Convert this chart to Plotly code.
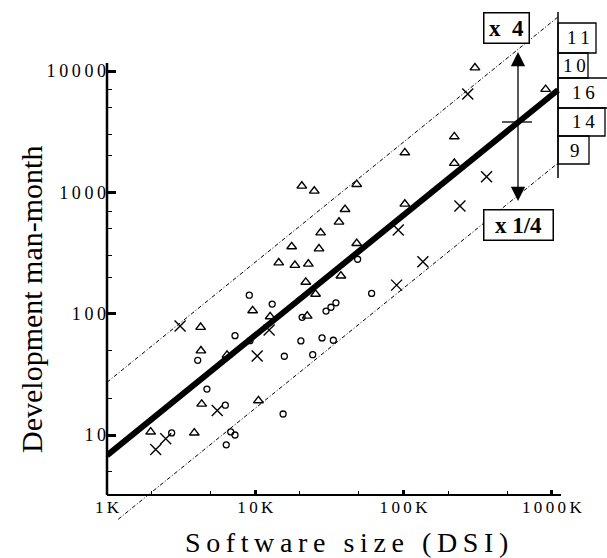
import math
import plotly.graph_objects as go

# ---------------- data (software size in KDSI, effort in man-months) ----------------
tri_x = [20.6, 25.0, 48.3, 40.3, 36.7, 27.6, 17.6, 26.9, 48.3, 14.4, 18.5, 22.8, 21.9,
         37.8, 25.5, 9.6, 12.6, 22.4, 4.28, 4.30, 6.45, 4.35, 10.5, 1.97, 3.88,
         303, 908, 220, 220, 102, 102]
tri_y = [1129, 1027, 1166, 725, 570, 465, 357, 343, 380, 263, 251, 257, 182,
         205, 145, 106, 94.5, 95.7, 77.3, 49.5, 45.6, 18.0, 19.2, 10.6, 10.4,
         10660, 7080, 2879, 1738, 2125, 802]
circ_x = [9.11, 13.0, 49.0, 60.9, 7.30, 9.21, 20.7, 30.0, 32.4, 35.0, 20.3, 28.2,
          33.6, 15.7, 24.4, 4.09, 4.72, 6.28, 15.4, 2.73, 6.83, 7.30, 6.37]
circ_y = [142, 120, 281, 147, 65.9, 59.9, 93.4, 105, 113, 123, 59.6, 63.1,
          60.4, 44.6, 45.9, 41.3, 23.9, 17.6, 14.9, 10.4, 10.6, 10.0, 8.3]
cross_x = [3.11, 12.4, 10.3, 5.54, 2.49, 2.13, 271, 363, 240, 92.1, 135, 89.8]
cross_y = [79.2, 73.4, 44.8, 15.9, 9.3, 7.6, 6475, 1347, 773, 490, 268, 172]

# regression line end points and band factor
fit_x = [1, 1100]
fit_y = [6.8, 6980]
band_factor = 4
lower_start_x = 1.19

x_tick_vals = [1, 10, 100, 1000]
x_tick_text = ["1K", "10K", "100K", "1000K"]
y_tick_vals = [10, 100, 1000, 10000]
y_tick_text = ["10", "100", "1000", "10000"]
x_minor = [2, 5, 20, 50, 200, 500]
y_minor = [5, 20, 50, 200, 300, 500, 700, 2000, 3000, 5000, 7000]

table_labels = ["11", "10", "16", "14", "9"]

# ---------------- layout helpers ----------------
W, H = 607, 558
L = 107
SERIF = "Liberation Serif"
TS = "\u2009"


def spaced(s):
    return TS.join(s)


def pxx(p):
    return (p - L) / (W - L)


def pxy(p):
    return 1 - p / H


slope = math.log10(fit_y[1] / fit_y[0]) / math.log10(fit_x[1] / fit_x[0])


def fit(x):
    return fit_y[0] * (x / fit_x[0]) ** slope


fig = go.Figure()

dash_style = "4px,2px,1px,2px"
fig.add_trace(go.Scatter(x=fit_x, y=[v * band_factor for v in fit_y], mode="lines",
                         line=dict(color="black", width=1, dash=dash_style), hoverinfo="skip"))
fig.add_trace(go.Scatter(x=[lower_start_x, fit_x[1]],
                         y=[fit(lower_start_x) / band_factor, fit_y[1] / band_factor], mode="lines",
                         line=dict(color="black", width=1, dash=dash_style), hoverinfo="skip"))
fig.add_trace(go.Scatter(x=fit_x, y=fit_y, mode="lines",
                         line=dict(color="black", width=6), hoverinfo="skip"))

fig.add_trace(go.Scatter(x=tri_x, y=tri_y, mode="markers",
                         marker=dict(symbol="triangle-up-open", size=8.5, color="black",
                                     line=dict(width=1.4, color="black"))))
fig.add_trace(go.Scatter(x=circ_x, y=circ_y, mode="markers",
                         marker=dict(symbol="circle-open", size=6, color="black",
                                     line=dict(width=1.3, color="black"))))
fig.add_trace(go.Scatter(x=cross_x, y=cross_y, mode="markers",
                         marker=dict(symbol="x-thin-open", size=11, color="black",
                                     line=dict(width=1.4, color="black"))))

AXIS_Y_PX = 495
shapes = [
    dict(type="line", xref="paper", yref="paper", x0=0, x1=0, y0=pxy(AXIS_Y_PX), y1=pxy(63),
         line=dict(color="black", width=2.5)),
    dict(type="line", xref="paper", yref="paper", x0=0, x1=pxx(561), y0=pxy(AXIS_Y_PX), y1=pxy(AXIS_Y_PX),
         line=dict(color="black", width=2)),
    dict(type="line", xref="paper", yref="paper", x0=pxx(558), x1=pxx(558), y0=pxy(12), y1=pxy(178),
         line=dict(color="black", width=1.5)),
    dict(type="line", xref="paper", yref="paper", x0=pxx(502), x1=pxx(532), y0=pxy(122), y1=pxy(122),
         line=dict(color="black", width=1.3)),
]

row_edges = [23, 53, 78, 108, 136, 164]
row_right = [596, 588, 609, 605, 589]
row_text_x = [578, 574, 583, 583, 575]
annotations = []
for i, lab in enumerate(table_labels):
    shapes.append(dict(type="rect", xref="paper", yref="paper", x0=pxx(558), x1=pxx(row_right[i]),
                       y0=pxy(row_edges[i + 1]), y1=pxy(row_edges[i]),
                       line=dict(color="black", width=1.3), fillcolor="rgba(0,0,0,0)"))
    annotations.append(dict(xref="paper", yref="paper", x=pxx(row_text_x[i]),
                            y=pxy((row_edges[i] + row_edges[i + 1]) / 2), text=spaced(lab),
                            showarrow=False, font=dict(family=SERIF, size=19, color="black"),
                            xanchor="center", yanchor="middle"))

annotations.append(dict(xref="paper", yref="paper", x=pxx(518), y=pxy(52), ax=0, ay=70,
                        text="", showarrow=True, arrowhead=2, arrowsize=2.2, arrowwidth=1.3,
                        arrowcolor="black"))
annotations.append(dict(xref="paper", yref="paper", x=pxx(518), y=pxy(201), ax=0, ay=-79,
                        text="", showarrow=True, arrowhead=2, arrowsize=2.2, arrowwidth=1.3,
                        arrowcolor="black"))
annotations.append(dict(xref="paper", yref="paper", x=pxx(506), y=pxy(28), text="<b>x  4</b>",
                        showarrow=False, font=dict(family=SERIF, size=23, color="black"),
                        bordercolor="black", borderwidth=1.5, borderpad=1, bgcolor="white",
                        width=42, height=27, xanchor="center", yanchor="middle"))
annotations.append(dict(xref="paper", yref="paper", x=pxx(518), y=pxy(225), text="<b>x 1/4</b>",
                        showarrow=False, font=dict(family=SERIF, size=23, color="black"),
                        bordercolor="black", borderwidth=1.5, borderpad=1, bgcolor="white",
                        width=66, height=27, xanchor="center", yanchor="middle"))

xtitle = (TS + " " + TS).join(spaced(w) for w in "Software size (DSI)".split(" "))
annotations.append(dict(xref="paper", yref="paper", x=pxx(346), y=pxy(542), text=xtitle,
                        showarrow=False, font=dict(family=SERIF, size=28, color="black"),
                        xanchor="center", yanchor="middle"))
annotations.append(dict(xref="paper", yref="paper", x=pxx(31), y=pxy(300),
                        text="Development man-month", textangle=-90,
                        showarrow=False, font=dict(family=SERIF, size=30, color="black"),
                        xanchor="center", yanchor="middle"))

fig.update_layout(
    width=W, height=H,
    margin=dict(l=L, r=0, t=0, b=0),
    paper_bgcolor="white", plot_bgcolor="white",
    showlegend=False,
    shapes=shapes, annotations=annotations,
    xaxis=dict(type="log", range=[0, 3.372], anchor="free", position=pxy(AXIS_Y_PX),
               tickvals=x_tick_vals, ticktext=[spaced(t) for t in x_tick_text],
               ticks="inside", ticklen=5, tickwidth=2.5, tickcolor="black",
               showgrid=False, zeroline=False, showline=False,
               tickfont=dict(family=SERIF, size=17, color="black"),
               minor=dict(tickvals=x_minor, ticks="inside", ticklen=4, tickwidth=1.3,
                          tickcolor="black", showgrid=False)),
    yaxis=dict(type="log", range=[-0.014, 4.586],
               tickvals=y_tick_vals, ticktext=[spaced(t) for t in y_tick_text],
               ticks="inside", ticklen=9, tickwidth=2.5, tickcolor="black",
               showgrid=False, zeroline=False, showline=False,
               tickfont=dict(family=SERIF, size=18, color="black"),
               minor=dict(tickvals=y_minor, ticks="inside", ticklen=5, tickwidth=1.3,
                          tickcolor="black", showgrid=False)),
)

fig.write_html("out.html", config={"displayModeBar": False},
               post_script="document.body.style.margin='0';document.body.style.padding='0';")
